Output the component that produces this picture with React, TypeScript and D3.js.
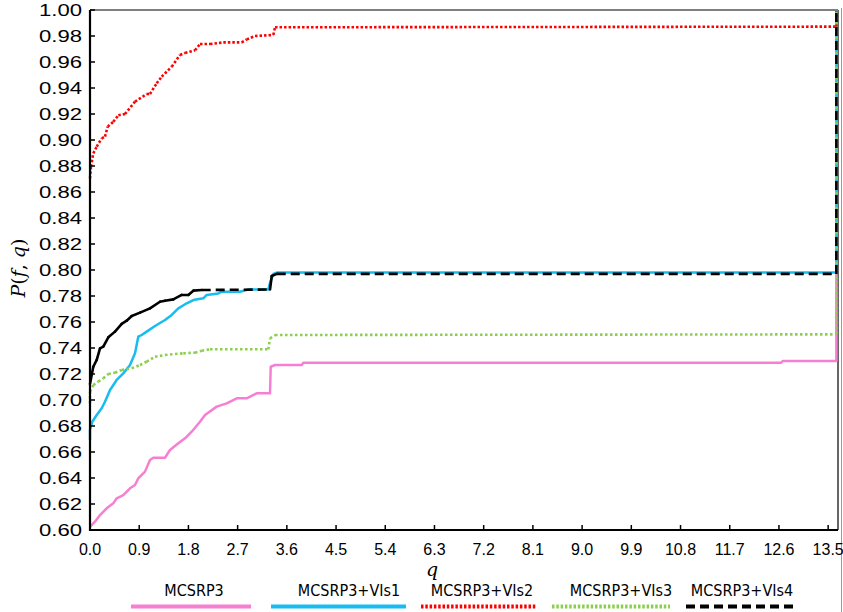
import React from "react";
import * as d3 from "d3";

// ticks
const xTicks = [0, 0.9, 1.8, 2.7, 3.6, 4.5, 5.4, 6.3, 7.2, 8.1, 9.0, 9.9, 10.8, 11.7, 12.6, 13.5];
const yTicks = [0.6, 0.62, 0.64, 0.66, 0.68, 0.7, 0.72, 0.74, 0.76, 0.78, 0.8, 0.82, 0.84, 0.86, 0.88, 0.9, 0.92, 0.94, 0.96, 0.98, 1.0];

// series
const qMCSRP3 = [0, 0.091, 0.183, 0.305, 0.426, 0.488, 0.609, 0.732, 0.823, 0.883, 1.006, 1.097, 1.158, 1.372, 1.463, 1.615, 1.738, 1.86, 2.012, 2.104, 2.317, 2.5, 2.683, 2.866, 3.048, 3.292, 3.305, 3.384, 3.872, 3.902, 12.64, 12.67, 13.65, 13.65];
const pMCSRP3 = [0.6025, 0.6064, 0.6115, 0.6167, 0.6205, 0.6244, 0.6269, 0.6321, 0.6346, 0.6397, 0.6449, 0.6538, 0.6556, 0.6556, 0.6615, 0.6667, 0.6705, 0.6756, 0.6833, 0.6885, 0.6949, 0.6974, 0.7013, 0.7013, 0.7051, 0.7051, 0.7256, 0.7269, 0.7269, 0.7287, 0.7287, 0.73, 0.73, 1.0];

const qVIs1 = [0, 0, 0.042, 0.123, 0.214, 0.274, 0.366, 0.488, 0.609, 0.732, 0.823, 0.883, 0.946, 1.037, 1.189, 1.372, 1.494, 1.615, 1.769, 1.89, 2.072, 2.134, 2.347, 2.409, 2.744, 2.896, 3.261, 3.292, 3.353, 3.415, 13.65, 13.65];
const pVIs1 = [0.6692, 0.677, 0.6833, 0.6885, 0.6936, 0.6987, 0.7077, 0.7154, 0.7205, 0.7269, 0.7359, 0.7487, 0.75, 0.7526, 0.7569, 0.7615, 0.7654, 0.7705, 0.7744, 0.7769, 0.7782, 0.7808, 0.782, 0.7833, 0.7833, 0.785, 0.785, 0.79, 0.797, 0.798, 0.798, 1.0];

const qVIs2 = [0, 0.018, 0.06, 0.123, 0.214, 0.274, 0.324, 0.426, 0.518, 0.64, 0.823, 1.037, 1.097, 1.22, 1.311, 1.494, 1.646, 1.738, 1.921, 2.012, 2.195, 2.438, 2.775, 2.866, 3.018, 3.353, 3.384, 13.65, 13.65];
const pVIs2 = [0.8705, 0.8795, 0.8897, 0.8949, 0.9013, 0.9026, 0.9103, 0.914, 0.919, 0.92, 0.9295, 0.9354, 0.9354, 0.9436, 0.9487, 0.9564, 0.9654, 0.967, 0.969, 0.9738, 0.9738, 0.9751, 0.9751, 0.9774, 0.98, 0.9808, 0.9867, 0.9872, 1.0];

const qVIs3 = [0, 0, 0.06, 0.152, 0.243, 0.335, 0.457, 0.58, 0.763, 0.915, 1.037, 1.189, 1.372, 1.555, 1.707, 1.921, 2.043, 2.195, 3.261, 3.292, 3.384, 13.65, 13.65];
const pVIs3 = [0.6974, 0.7064, 0.7115, 0.7141, 0.7167, 0.72, 0.721, 0.7231, 0.7244, 0.7269, 0.7295, 0.7333, 0.7346, 0.7354, 0.7359, 0.7364, 0.7379, 0.739, 0.739, 0.7474, 0.75, 0.7505, 1.0];

const qVIs4 = [0, 0.06, 0.123, 0.183, 0.243, 0.335, 0.457, 0.58, 0.671, 0.763, 0.915, 1.097, 1.28, 1.372, 1.524, 1.677, 1.798, 1.89, 2.043, 3.292, 3.324, 3.415, 13.65, 13.65];
const pVIs4 = [0.7124, 0.7256, 0.7308, 0.7397, 0.741, 0.7482, 0.7526, 0.7585, 0.761, 0.7646, 0.7672, 0.7705, 0.7756, 0.7764, 0.7774, 0.7808, 0.7808, 0.7841, 0.7846, 0.785, 0.7954, 0.797, 0.797, 1.0];

const seriesNames = ["MCSRP3", "MCSRP3+VIs1", "MCSRP3+VIs2", "MCSRP3+VIs3", "MCSRP3+VIs4"];

// minLen: segments shorter than this are drawn solid (dash pattern restarts on each step)
const series = [
  { name: seriesNames[0], q: qMCSRP3, p: pMCSRP3, color: "#F77FD2", dash: null, minLen: 0, lx: [131, 251], tx: 194 },
  { name: seriesNames[1], q: qVIs1, p: pVIs1, color: "#17BDF2", dash: null, minLen: 0, lx: [271, 406], tx: 349 },
  { name: seriesNames[2], q: qVIs2, p: pVIs2, color: "#FF0000", dash: "2.5,2", minLen: 0, lx: [421, 536], tx: 482 },
  { name: seriesNames[3], q: qVIs3, p: pVIs3, color: "#8CCF4E", dash: "2.5,2.5", minLen: 0, lx: [552, 670], tx: 621 },
  { name: seriesNames[4], q: qVIs4, p: pVIs4, color: "#000000", dash: "9,5", minLen: 20, lx: [686, 793], tx: 742 },
];

const W = 843;
const H = 612;
const left = 90, right = 838, top = 10, bottom = 530;

export default function App() {
  const x = d3.scaleLinear().domain([0, 13.68]).range([left, right]);
  const y = d3.scaleLinear().domain([0.6, 1.0]).range([bottom, top]);
  const line = d3.line<[number, number]>().x(d => x(d[0])).y(d => y(d[1]));

  return (
    <svg width={W} height={H} style={{ position: "absolute", left: 0, top: 0, background: "#fff" }}>
      <rect x={0} y={0} width={W} height={H} fill="#fff" />
      {/* plot frame */}
      <line x1={left} y1={top} x2={right} y2={top} stroke="#000" strokeWidth={1.2} />
      <line x1={right} y1={top} x2={right} y2={bottom} stroke="#000" strokeWidth={1.2} />
      <line x1={841.5} y1={8} x2={841.5} y2={H} stroke="#9a9a9a" strokeWidth={1} />

      {/* series */}
      {series.map(s => (
        <g key={s.name}>
          {s.dash == null ? (
            <path d={line(s.q.map((q, i) => [q, s.p[i]] as [number, number])) || ""} fill="none" stroke={s.color} strokeWidth={2.5} strokeLinejoin="round" />
          ) : (
            s.q.slice(1).map((q, i) => {
              const len = Math.hypot(x(q) - x(s.q[i]), y(s.p[i + 1]) - y(s.p[i]));
              return (
                <path key={i} d={line([[s.q[i], s.p[i]], [q, s.p[i + 1]]]) || ""} fill="none" stroke={s.color} strokeWidth={2.6}
                  strokeLinecap={len < s.minLen ? "round" : "butt"}
                  strokeDasharray={len < s.minLen ? undefined : s.dash} />
              );
            })
          )}
        </g>
      ))}

      {/* axes */}
      <line x1={left} y1={top} x2={left} y2={bottom + 1} stroke="#000" strokeWidth={2.2} />
      <line x1={left - 1} y1={bottom} x2={right} y2={bottom} stroke="#000" strokeWidth={2.2} />
      {yTicks.map(t => (
        <g key={"y" + t}>
          <line x1={left} x2={left + 5} y1={y(t)} y2={y(t)} stroke="#000" strokeWidth={1.5} />
          <text x={82} y={y(t) + 6} textAnchor="end" fontFamily="Liberation Sans, Arial, sans-serif" fontSize={16}
            textLength={43} lengthAdjust="spacingAndGlyphs" fill="#000">{t.toFixed(2)}</text>
        </g>
      ))}
      {xTicks.map(t => (
        <g key={"x" + t}>
          <line x1={x(t)} x2={x(t)} y1={bottom} y2={bottom - 5} stroke="#000" strokeWidth={1.5} />
          <text x={x(t)} y={555} textAnchor="middle" fontFamily="Liberation Sans, Arial, sans-serif" fontSize={16} fill="#000">{t.toFixed(1)}</text>
        </g>
      ))}

      {/* axis titles */}
      <text x={432} y={576} textAnchor="middle" fontFamily="DejaVu Serif, Liberation Serif, serif" fontStyle="italic" fontSize={19}>q</text>
      <text transform="translate(25,268) rotate(-90)" textAnchor="middle" fontFamily="DejaVu Serif, Liberation Serif, serif" fontSize={19}>
        <tspan fontStyle="italic">P</tspan>(<tspan fontStyle="italic">f</tspan>, <tspan fontStyle="italic">q</tspan>)
      </text>

      {/* legend */}
      {series.map(s => (
        <g key={"lg" + s.name}>
          <text x={s.tx} y={596} textAnchor="middle" fontFamily="Liberation Sans Narrow, DejaVu Sans Condensed, Arial Narrow, sans-serif" fontSize={16} fill="#000">{s.name}</text>
          <line x1={s.lx[0]} x2={s.lx[1]} y1={606.5} y2={606.5} stroke={s.color} strokeWidth={4} strokeDasharray={s.dash == null ? undefined : s.dash === "9,5" ? "9,5" : "2.5,1.8"} />
        </g>
      ))}
    </svg>
  );
}
